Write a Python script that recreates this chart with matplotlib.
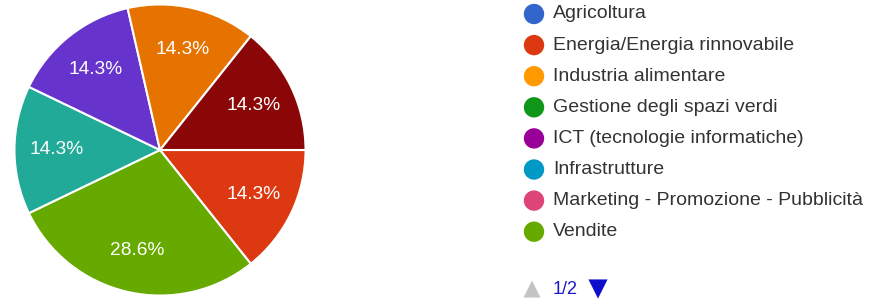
#!/usr/bin/env python3
# Torta stile Google Forms con legenda a pagine
import matplotlib
matplotlib.use('Agg')
import matplotlib.pyplot as plt

plt.rcParams['font.family'] = ['Liberation Sans', 'DejaVu Sans']

# legenda (pagina 1 di 2)
legend_labels = ['Agricoltura', 'Energia/Energia rinnovabile', 'Industria alimentare',
                 'Gestione degli spazi verdi', 'ICT (tecnologie informatiche)',
                 'Infrastrutture', 'Marketing - Promozione - Pubblicità', 'Vendite']
legend_colors = ['#3366cc', '#dc3912', '#ff9900', '#109618',
                 '#990099', '#0099c6', '#dd4477', '#66aa00']

# spicchi in ordine orario (gli ultimi quattro sono categorie della pagina 2)
pie_counts = [1, 2, 1, 1, 1, 1]
pie_colors = ['#dc3912', '#66aa00', '#22aa99', '#6633cc', '#e67300', '#8b0707']
page_text = '1/2'

W, H = 870, 304
fig = plt.figure(figsize=(W / 100, H / 100), dpi=100)

cx, cy, r = 160, 150, 147
ax = fig.add_axes([(cx - r) / W, (H - cy - r) / H, 2 * r / W, 2 * r / H])
wedges, texts, autotexts = ax.pie(pie_counts, colors=pie_colors, startangle=0,
                                  counterclock=False, autopct='%.1f%%', pctdistance=0.71,
                                  wedgeprops=dict(edgecolor='white', linewidth=1.5),
                                  textprops=dict(color='white', fontsize=13.8))
ax.set_xlim(-1.01, 1.01)
ax.set_ylim(-1.01, 1.01)
ax.set_aspect('equal')
ax.axis('off')

# legenda manuale in coordinate pixel
lg = fig.add_axes([0, 0, 1, 1])
lg.set_xlim(0, W)
lg.set_ylim(H, 0)
lg.axis('off')
y0, dy = 14, 31.1
for i, (lab, col) in enumerate(zip(legend_labels, legend_colors)):
  y = y0 + i * dy
  lg.scatter([534], [y], s=215, color=col, edgecolors='none')
  lg.text(553, y, lab, fontsize=14, color='#333333', va='center', ha='left')

# paginazione
lg.scatter([532], [289], marker='^', s=150, color='#c4c4c4', edgecolors='none')
lg.text(553, 289, page_text, fontsize=13, color='#1a1acc', va='center', ha='left')
lg.scatter([598], [289], marker='v', s=190, color='#0d0dcc', edgecolors='none')

fig.savefig('out.png', dpi=100)
